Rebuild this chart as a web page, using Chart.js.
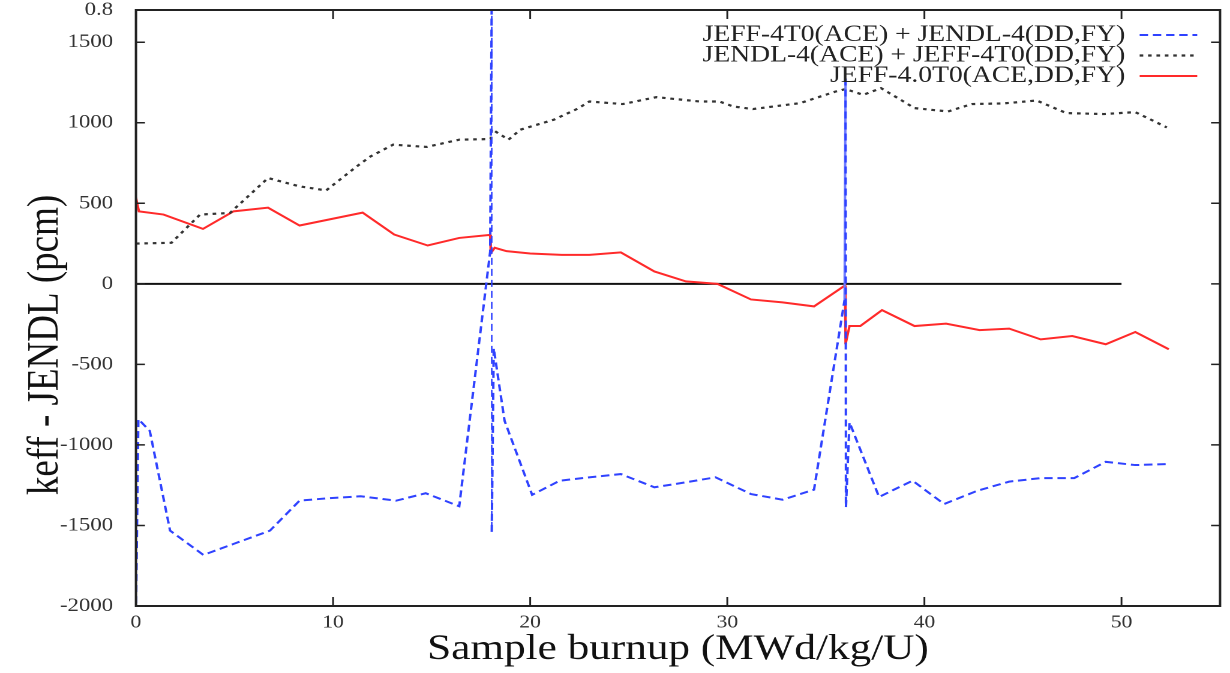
<!DOCTYPE html>
<html><head><meta charset="utf-8">
<script src="https://cdn.jsdelivr.net/npm/chart.js@4.4.1/dist/chart.umd.min.js"></script>
<style>
html,body{margin:0;padding:0;background:#fff;overflow:hidden}
#wrap{width:1025px;height:673px;transform:scaleX(1.2);transform-origin:0 0}
canvas{display:block}
</style></head><body>
<div id="wrap"><canvas id="c" width="1025" height="673"></canvas></div>
<script>
// ---- data ----
const seriesLabels = ["JEFF-4T0(ACE) + JENDL-4(DD,FY)", "JENDL-4(ACE) + JEFF-4T0(DD,FY)", "JEFF-4.0T0(ACE,DD,FY)"];
const xTitle = "Sample burnup (MWd/kg/U)";
const yTitle = "keff - JENDL (pcm)";
const xTicks = [0, 10, 20, 30, 40, 50];
const yTicks = [-2000, -1500, -1000, -500, 0, 500, 1000, 1500];
const topLabel = "0.8";
const xMin = 0, xMax = 55, yMin = -2000, yMax = 1700;

const blueX = [0, 0.12, 0.7, 1.73, 3.42, 4.94, 6.8, 8.3, 9.85, 11.4, 13.2, 14.7, 16.4, 17.97, 18.05, 18.05, 18.15, 18.7, 20.1, 21.5, 23.1, 24.6, 26.3, 27.9, 29.4, 31.2, 32.8, 34.4, 35.95, 36.0, 36.02, 36.2, 37.7, 39.4, 41.0, 42.7, 44.3, 45.9, 47.6, 49.2, 50.7, 52.4];
const blueY = [-2050, -840, -913, -1532, -1683, -1615, -1532, -1346, -1330, -1319, -1346, -1300, -1381, 200, 1800, -1540, -400, -850, -1310, -1222, -1200, -1181, -1263, -1232, -1201, -1305, -1340, -1278, -100, 1275, -1387, -860, -1323, -1222, -1367, -1284, -1228, -1206, -1206, -1105, -1125, -1119];

const blackX = [0, 1.8, 3.25, 4.77, 6.7, 8.3, 9.65, 11.2, 11.9, 13.05, 14.75, 16.4, 18.0, 18.05, 18.9, 19.5, 21.2, 22.4, 23.0, 24.7, 26.4, 28.6, 29.6, 30.3, 31.3, 33.7, 35.5, 36.0, 36.9, 37.8, 39.5, 41.2, 42.4, 44.0, 45.7, 47.2, 49.1, 50.7, 52.3];
const blackY = [250, 255, 430, 440, 657, 605, 580, 729, 791, 864, 850, 895, 899, 960, 895, 957, 1019, 1087, 1132, 1116, 1159, 1132, 1132, 1101, 1085, 1122, 1194, 1209, 1173, 1215, 1091, 1070, 1116, 1120, 1138, 1060, 1054, 1066, 971];

const redX = [0, 0.15, 1.4, 3.4, 4.95, 6.7, 8.3, 11.5, 13.1, 14.8, 16.4, 17.97, 18.0, 18.2, 18.8, 20.0, 21.6, 23.0, 24.6, 26.3, 27.9, 29.5, 31.2, 32.8, 34.4, 35.97, 36.0, 36.2, 36.75, 37.85, 39.5, 41.1, 42.8, 44.3, 45.9, 47.5, 49.2, 50.7, 52.4];
const redY = [535, 450, 430, 341, 450, 473, 362, 442, 306, 238, 285, 304, 190, 224, 203, 188, 180, 180, 195, 77, 15, 0, -97, -115, -140, -10, -375, -262, -262, -163, -262, -247, -287, -278, -345, -324, -375, -299, -406];

const zeroX = [0, 50];
const zeroY = [0, 0];

const pts = (xs, ys) => xs.map((v, i) => ({x: v, y: ys[i]}));

Chart.defaults.font.family = "'Liberation Serif', 'Times New Roman', serif";
Chart.defaults.color = '#333';

const framePlugin = {
  id: 'frame',
  afterDatasetsDraw(chart) {
    const {ctx, chartArea: a, scales: {x, y}} = chart;
    ctx.save();
    ctx.strokeStyle = '#222';
    ctx.lineWidth = 1.5;
    const tl = 9, tlx = 7.5;
    ctx.beginPath();
    xTicks.forEach(v => {
      const px = x.getPixelForValue(v);
      ctx.moveTo(px, a.bottom); ctx.lineTo(px, a.bottom - tl);
      ctx.moveTo(px, a.top); ctx.lineTo(px, a.top + tl);
    });
    yTicks.forEach(v => {
      const py = y.getPixelForValue(v);
      ctx.moveTo(a.left, py); ctx.lineTo(a.left + tlx, py);
      ctx.moveTo(a.right, py); ctx.lineTo(a.right - tlx, py);
    });
    ctx.stroke();
    ctx.lineWidth = 2;
    ctx.strokeRect(a.left, a.top, a.right - a.left, a.bottom - a.top);
    // legend (inside plot, text right-aligned, sample on the right)
    ctx.font = "23px 'Liberation Serif', serif";
    ctx.textAlign = 'right';
    ctx.textBaseline = 'middle';
    const tx = a.right - 79, sx0 = a.right - 67, sx1 = a.right - 19;
    [0, 1, 2].forEach(i => {
      const ds = chart.data.datasets[i];
      const yy = a.top + 25 + i * 20.5;
      ctx.fillStyle = '#222';
      ctx.fillText(ds.label, tx, yy);
      ctx.beginPath();
      ctx.strokeStyle = ds.borderColor;
      ctx.lineWidth = ds.borderWidth;
      ctx.setLineDash(ds.borderDash || []);
      ctx.moveTo(sx0, yy); ctx.lineTo(sx1, yy);
      ctx.stroke();
      ctx.setLineDash([]);
    });
    ctx.restore();
  }
};

new Chart(document.getElementById('c'), {
  type: 'line',
  data: {
    datasets: [
      {label: seriesLabels[0], data: pts(blueX, blueY), borderColor: '#2f42ff', borderWidth: 2, borderDash: [7, 4],
       segment: {borderDash: c => (c.p0.parsed.x > 35 && c.p1.parsed.y > 1000) ? [] : undefined,
                 borderColor: c => (c.p0.parsed.x > 35 && c.p1.parsed.y > 1000) ? '#6f7cff' : undefined,
                 borderWidth: c => (Math.abs(c.p1.parsed.x - c.p0.parsed.x) < 0.01) ? 1.3 : undefined}},
      {label: seriesLabels[1], data: pts(blackX, blackY), borderColor: '#333', borderWidth: 2.2, borderDash: [3, 4]},
      {label: seriesLabels[2], data: pts(redX, redY), borderColor: '#ff2a2a', borderWidth: 2},
      {label: '', data: pts(zeroX, zeroY), borderColor: '#111', borderWidth: 2}
    ]
  },
  options: {
    responsive: false,
    animation: false,
    devicePixelRatio: 2,
    elements: {point: {radius: 0}, line: {tension: 0, fill: false}},
    layout: {padding: {left: 0, top: 10, right: 8.3, bottom: 0}},
    plugins: {legend: {display: false}, tooltip: {enabled: false}},
    scales: {
      x: {
        type: 'linear', min: xMin, max: xMax,
        afterBuildTicks: s => { s.ticks = xTicks.map(v => ({value: v})); },
        ticks: {padding: -2, font: {size: 18}, color: '#333', autoSkip: false, maxRotation: 0},
        grid: {display: false}, border: {display: false},
        title: {display: true, text: xTitle, font: {size: 36}, color: '#111', padding: {top: 0, bottom: 2}},
        afterFit: s => { s.height = 67; s.paddingLeft = 0; s.paddingRight = 0; }
      },
      y: {
        type: 'linear', min: yMin, max: yMax,
        afterBuildTicks: s => { s.ticks = yTicks.concat([yMax]).map(v => ({value: v})); },
        ticks: {padding: 11, font: {size: 19}, color: '#333', autoSkip: false,
                callback: v => v === yMax ? topLabel : String(v)},
        grid: {display: false}, border: {display: false},
        title: {display: true, text: yTitle + '\u2002\u2002\u2002\u2002', font: {size: 37}, color: '#111', padding: {top: 16, bottom: 0}},
        afterFit: s => { s.width = 113.3; s.paddingTop = 0; s.paddingBottom = 0; }
      }
    }
  },
  plugins: [framePlugin]
});
</script>
</body></html>
